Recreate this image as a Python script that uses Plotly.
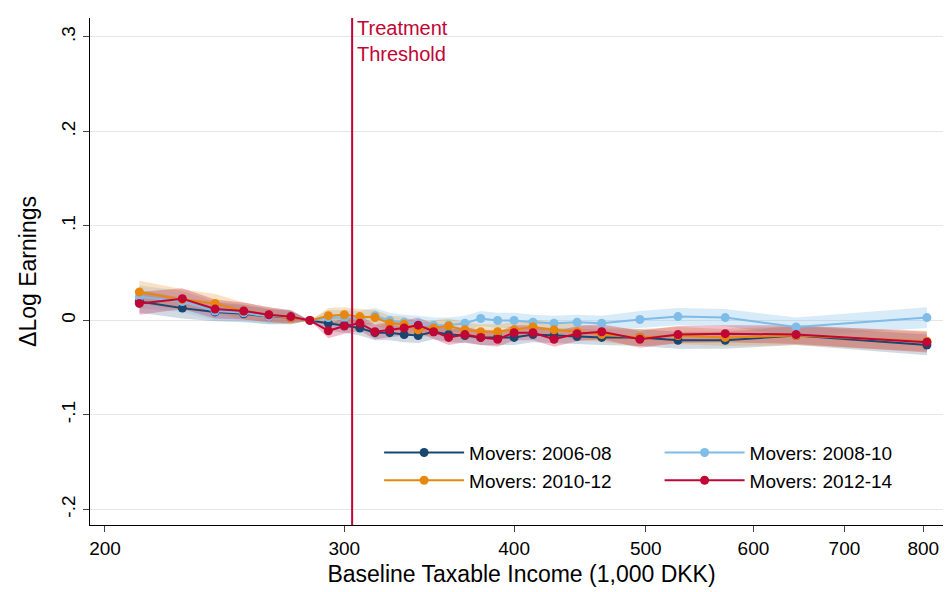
import math
import plotly.graph_objects as go

income = [212, 228, 241, 253, 264, 274, 283, 292, 300, 308, 316, 324, 332, 340, 349, 358, 368, 378, 389, 400, 413, 428, 445, 464, 495, 528, 572, 645, 805]
m0608 = [0.020, 0.013, 0.009, 0.007, 0.004, 0.003, 0.000, -0.003, -0.005, -0.008, -0.013, -0.013, -0.015, -0.016, -0.012, -0.015, -0.016, -0.018, -0.018, -0.018, -0.015, -0.016, -0.017, -0.018, -0.018, -0.021, -0.021, -0.016, -0.026]
m0810 = [0.025, 0.020, 0.010, 0.008, 0.004, 0.004, 0.000, 0.003, 0.003, 0.002, 0.005, 0.000, -0.002, -0.003, -0.005, -0.005, -0.003, 0.002, 0.000, 0.000, -0.002, -0.003, -0.002, -0.003, 0.001, 0.004, 0.003, -0.007, 0.003]
m1012 = [0.030, 0.022, 0.018, 0.010, 0.006, 0.003, 0.000, 0.005, 0.006, 0.004, 0.003, -0.003, -0.004, -0.010, -0.008, -0.006, -0.010, -0.012, -0.012, -0.010, -0.007, -0.010, -0.012, -0.015, -0.018, -0.016, -0.018, -0.016, -0.022]
m1214 = [0.018, 0.023, 0.012, 0.010, 0.006, 0.004, 0.000, -0.011, -0.006, -0.003, -0.012, -0.010, -0.008, -0.005, -0.012, -0.018, -0.015, -0.018, -0.020, -0.013, -0.013, -0.020, -0.014, -0.012, -0.020, -0.015, -0.014, -0.015, -0.023]
ci_half = [0.012, 0.011, 0.010, 0.009, 0.008, 0.007, 0.0, 0.008, 0.008, 0.008, 0.008, 0.008, 0.008, 0.008, 0.008, 0.008, 0.008, 0.008, 0.008, 0.008, 0.008, 0.008, 0.008, 0.008, 0.009, 0.009, 0.009, 0.010, 0.011]
threshold = 304

series = [("Movers: 2006-08", m0608, "#1a476f", "rgba(26,71,111,0.2)", "legend"),
          ("Movers: 2008-10", m0810, "#7fbce8", "rgba(127,188,232,0.3)", "legend2"),
          ("Movers: 2010-12", m1012, "#e8870e", "rgba(232,135,14,0.25)", "legend"),
          ("Movers: 2012-14", m1214, "#c10534", "rgba(193,5,52,0.25)", "legend2")]

fig = go.Figure()
for name, vals, col, fill, lg in series:
    up = [v + h for v, h in zip(vals, ci_half)]
    lo = [v - h for v, h in zip(vals, ci_half)]
    fig.add_trace(go.Scatter(x=income + income[::-1], y=up + lo[::-1], fill="toself",
                             fillcolor=fill, line=dict(width=0), hoverinfo="skip", showlegend=False))
for name, vals, col, fill, lg in series:
    fig.add_trace(go.Scatter(x=income, y=vals, name=name, mode="lines+markers", legend=lg,
                             line=dict(color=col, width=2), marker=dict(color=col, size=9)))

fig.add_vline(x=threshold, line=dict(color="#c10534", width=2))
fig.add_annotation(x=math.log10(threshold), y=1.005, xref="x", yref="paper",
                   text="Treatment<br>Threshold", showarrow=False, xanchor="left", yanchor="top",
                   align="left", xshift=3, font=dict(color="#c10534", size=20, lineheight=1.0) if False else dict(color="#c10534", size=20))

lgstyle = dict(bgcolor="rgba(0,0,0,0)", font=dict(size=19), yanchor="bottom", y=0.05, xanchor="left",
               tracegroupgap=0, itemwidth=80)
fig.update_layout(
    width=951, height=592, plot_bgcolor="white", paper_bgcolor="white",
    margin=dict(l=82, r=6, t=10, b=75),
    font=dict(family="Liberation Sans, Arial", size=19, color="black"),
    legend=dict(x=0.335, **lgstyle),
    legend2=dict(x=0.66, **lgstyle),
    xaxis=dict(type="log", range=[2.290, 2.925], tickvals=[200, 300, 400, 500, 600, 700, 800],
               ticktext=["200", "300", "400", "500", "600", "700", "800"],
               showline=True, linecolor="black", ticks="outside", ticklen=6, showgrid=False,
               title=dict(text="Baseline Taxable Income (1,000 DKK)", standoff=8), zeroline=False),
    yaxis=dict(range=[-0.2165, 0.32], tickvals=[-0.2, -0.1, 0, 0.1, 0.2, 0.3],
               ticktext=["-.2", "-.1", "0", ".1", ".2", ".3"], tickangle=-90,
               showline=True, linecolor="black", ticks="outside", ticklen=6,
               showgrid=True, gridcolor="#e6e6e6", zeroline=False,
               title=dict(text="ΔLog Earnings")),
)
fig.write_html("out.html")
